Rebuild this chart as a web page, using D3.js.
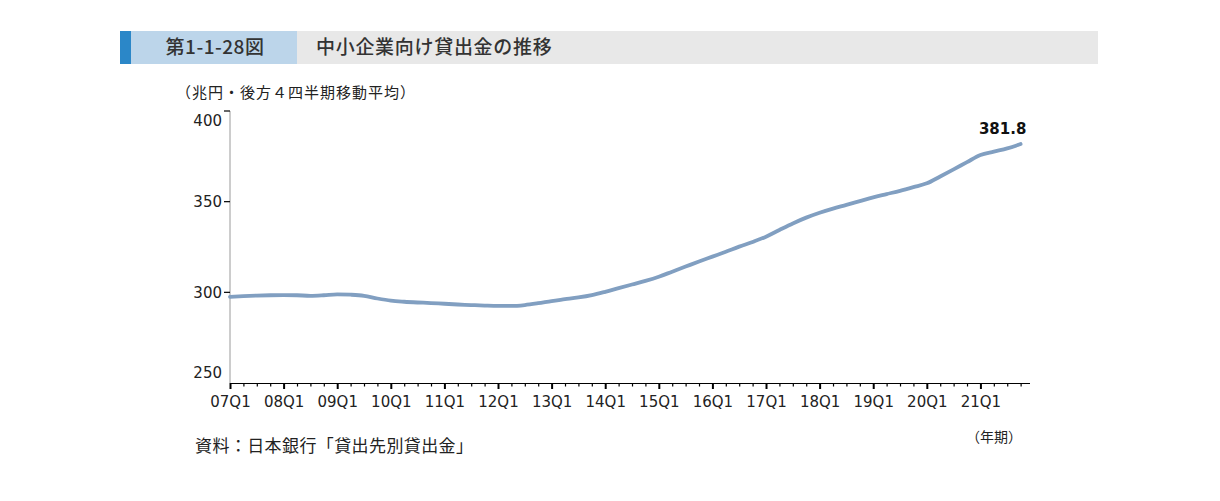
<!DOCTYPE html>
<html lang="ja">
<head>
<meta charset="utf-8">
<script src="https://cdn.jsdelivr.net/npm/d3@7"></script>
<style>
  html, body { margin: 0; padding: 0; background: #fff; }
  svg { display: block; }
  .jp { font-family: "Noto Sans CJK JP", "Noto Sans", sans-serif; }
  .num { font-family: "DejaVu Sans", Verdana, sans-serif; }
</style>
</head>
<body>
<svg id="chart" width="1220" height="501"></svg>
<script>
// quarters 07Q1 .. 21Q4 (4-quarter trailing average, trillion yen)
const years = d3.range(7, 22);
const quarters = years.flatMap((y) => [1, 2, 3, 4].map((q) => String(y).padStart(2, '0') + 'Q' + q));
const loans = [
  297.5, 297.9, 298.2, 298.4,
  298.5, 298.4, 298.1, 298.4,
  298.9, 298.7, 298.1, 296.6,
  295.4, 294.8, 294.4, 294.1,
  293.7, 293.3, 293.0, 292.7,
  292.5, 292.5, 293.0, 294.0,
  295.2, 296.2, 297.2, 298.5,
  300.3, 302.3, 304.3, 306.3,
  308.6, 311.4, 314.2, 317.0,
  319.7, 322.4, 325.2, 327.8,
  330.7, 334.4, 338.0, 341.2,
  343.9, 346.2, 348.2, 350.3,
  352.4, 354.2, 356.0, 358.0,
  360.1, 363.9, 367.8, 371.8,
  375.7, 377.6, 379.4, 381.8
];
const yTicks = [250, 300, 350, 400];
const lastLabel = '381.8';

const svg = d3.select('#chart');

// header bar
svg.append('rect').attr('x', 120).attr('y', 31).attr('width', 978).attr('height', 33).attr('fill', '#e8e8e8');
svg.append('rect').attr('x', 120).attr('y', 31).attr('width', 177).attr('height', 33).attr('fill', '#bcd5ea');
svg.append('rect').attr('x', 120).attr('y', 31).attr('width', 11).attr('height', 33).attr('fill', '#2b87c8');
svg.append('text').attr('class', 'jp').attr('x', 215).attr('y', 54)
  .attr('text-anchor', 'middle').attr('font-size', 19).attr('font-weight', 500).attr('fill', '#333')
  .attr('letter-spacing', 0.5)
  .text('第1-1-28図');
svg.append('text').attr('class', 'jp').attr('x', 316).attr('y', 54)
  .attr('font-size', 19).attr('font-weight', 500).attr('fill', '#333')
  .attr('letter-spacing', 0.7)
  .text('中小企業向け貸出金の推移');

svg.append('text').attr('class', 'jp').attr('x', 176).attr('y', 98)
  .attr('font-size', 15).attr('fill', '#222').attr('letter-spacing', 1)
  .text('（兆円・後方４四半期移動平均）');

const x = d3.scaleLinear().domain([0, 59.7]).range([230, 1030]);
const y = d3.scaleLinear().domain([250, 400]).range([383, 111]);

// y axis
svg.append('line').attr('x1', 230).attr('x2', 230).attr('y1', y(400)).attr('y2', y(250))
  .attr('stroke', '#9a9a9a').attr('stroke-width', 1);
const yg = svg.append('g');
yg.selectAll('line').data(yTicks.filter((d) => d !== 250)).join('line')
  .attr('x1', 224).attr('x2', 230).attr('y1', (d) => y(d)).attr('y2', (d) => y(d))
  .attr('stroke', '#000').attr('stroke-width', 1.2);
yg.selectAll('text').data(yTicks).join('text')
  .attr('class', 'num').attr('x', 222)
  .attr('y', (d) => d === 400 ? y(d) + 10 : d === 250 ? y(d) - 10 : y(d))
  .attr('dy', '0.35em').attr('text-anchor', 'end').attr('font-size', 15).attr('fill', '#222')
  .text((d) => d);

// x axis with quarterly minor ticks
const xAxis = d3.axisBottom(x)
  .tickValues(d3.range(0, 60))
  .tickSize(4)
  .tickFormat(() => '');
const xg = svg.append('g').attr('transform', 'translate(0,383)').call(xAxis);
xg.select('.domain').attr('stroke', '#000').attr('d', 'M230,0.5H1030');
xg.selectAll('.tick line').attr('stroke', '#000')
  .attr('y2', (d) => d % 4 === 0 ? 6 : 3.5)
  .attr('stroke-width', (d) => d % 4 === 0 ? 2 : 1.2);
xg.selectAll('.tick').filter((d) => d % 4 === 0).append('text')
  .attr('class', 'num').attr('y', 24).attr('text-anchor', 'middle')
  .attr('font-size', 15).attr('fill', '#222')
  .text((d) => quarters[d]);

// line
const line = d3.line().x((d, i) => x(i)).y((d) => y(d)).curve(d3.curveMonotoneX);
svg.append('path').datum(loans).attr('d', line)
  .attr('fill', 'none').attr('stroke', '#819fc1').attr('stroke-width', 3.8)
  .attr('stroke-linejoin', 'round').attr('stroke-linecap', 'round');

svg.append('text').attr('class', 'num').attr('x', x(loans.length - 1) - 18).attr('y', 134)
  .attr('text-anchor', 'middle').attr('font-size', 15).attr('font-weight', 'bold').attr('fill', '#111')
  .text(lastLabel);

svg.append('text').attr('class', 'jp').attr('x', 966).attr('y', 442)
  .attr('font-size', 14).attr('fill', '#222').text('（年期）');
svg.append('text').attr('class', 'jp').attr('x', 195).attr('y', 452)
  .attr('font-size', 17).attr('fill', '#222').attr('letter-spacing', 0.4)
  .text('資料：日本銀行「貸出先別貸出金」');
</script>
</body>
</html>
